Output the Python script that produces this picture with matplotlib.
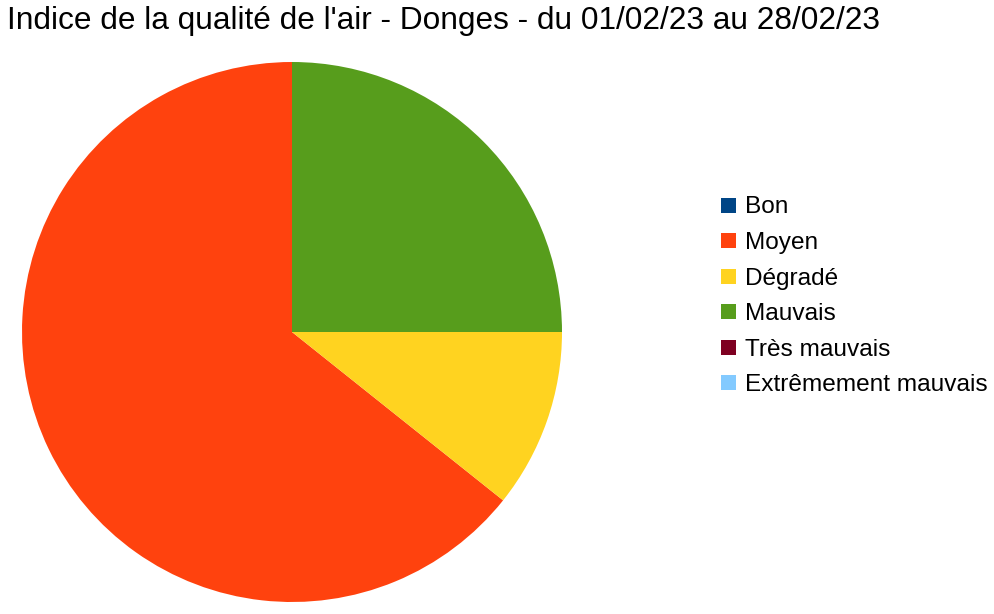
import matplotlib
matplotlib.use("Agg")
import matplotlib.pyplot as plt
from matplotlib.patches import Rectangle

plt.rcParams['font.family'] = ['Liberation Sans', 'DejaVu Sans']

title = "Indice de la qualité de l'air - Donges - du 01/02/23 au 28/02/23"
categories = ["Bon", "Moyen", "Dégradé", "Mauvais", "Très mauvais", "Extrêmement mauvais"]
days = [0, 18, 3, 7, 0, 0]
colors = ["#004586", "#ff420e", "#ffd320", "#579d1c", "#7e0021", "#83caff"]

W, H = 994, 614
fig = plt.figure(figsize=(W / 100, H / 100), dpi=100)
fig.patch.set_facecolor("white")

cx, cy, r = 292, 332, 270
ax = fig.add_axes([(cx - r) / W, (H - cy - r) / H, 2 * r / W, 2 * r / H])
ax.pie(days, colors=colors, startangle=90, counterclock=True, radius=1,
       wedgeprops=dict(linewidth=0))
ax.set_xlim(-1, 1)
ax.set_ylim(-1, 1)
ax.set_aspect("equal")
ax.axis("off")

fig.text(7 / W, 1 - 21 / H, title, fontsize=22.8, ha="left", va="center", color="black")

y0 = 205
dy = 35.5
sq = 15
for i, (lab, col) in enumerate(zip(categories, colors)):
    yc = y0 + i * dy
    fig.add_artist(Rectangle((721 / W, 1 - (yc + sq / 2) / H), sq / W, sq / H,
                             transform=fig.transFigure, facecolor=col, edgecolor="none"))
    fig.text(745 / W, 1 - yc / H, lab, fontsize=17.6, ha="left", va="center_baseline", color="black")

fig.savefig("out.png", dpi=100, facecolor="white")
